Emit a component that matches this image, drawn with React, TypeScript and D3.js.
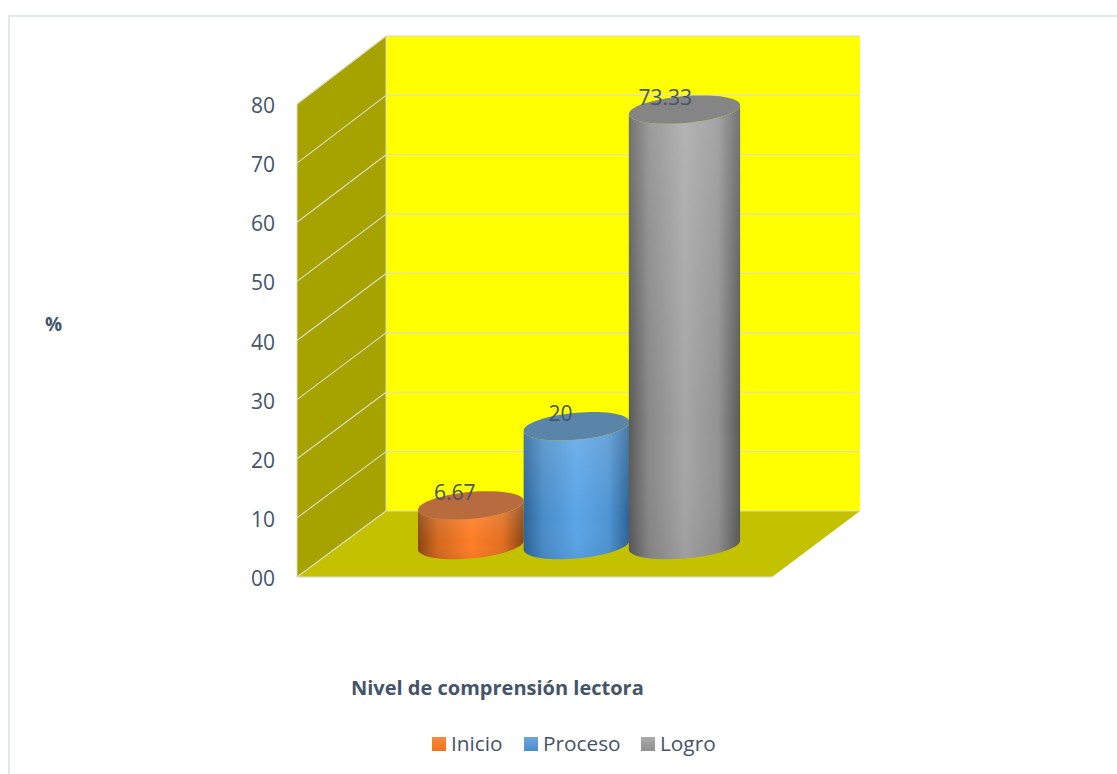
import React from "react";
import * as d3 from "d3";

const categories = ["Inicio", "Proceso", "Logro"];
const values = [6.67, 20, 73.33];
const valueLabels = ["6.67", "20", "73.33"];
const yTicks = [0, 10, 20, 30, 40, 50, 60, 70, 80];
const yTickLabels = ["00", "10", "20", "30", "40", "50", "60", "70", "80"];
const topColors = ["#b96b40", "#5a84a8", "#858585"];
const edgeColors = ["#8c4512", "#2c6396", "#5a5a5a"];
const midColors = ["#ff7d26", "#5aa5e8", "#a6a6a6"];
const legendTop = ["#f58a45", "#6ea6de", "#ababab"];
const legendBottom = ["#ee7418", "#4a8ccc", "#8f8f8f"];

const W = 1117;
const H = 774;
const textColor = "#44546a";
const font = "'Open Sans', sans-serif";

const yFront = d3.scaleLinear().domain([0, 80]).range([577, 104]);
const yBack = d3.scaleLinear().domain([0, 80]).range([511, 36]);
const xFront = 297;
const xBack = 386;
const xRight = 860;
const xFloorFront = 772;

const xBand = d3.scaleBand().domain(categories).range([418, 735]).paddingInner(0);
const heightScale = d3.scaleLinear().domain([0, 80]).range([0, 475]);

const tilt = 4.5;
const vr = 13.5;
const baseCy = 545;

function ellipsePoint(cx: number, cy: number, a: number, t: number): [number, number] {
  return [cx + a * Math.cos(t), cy + vr * Math.sin(t) - tilt * Math.cos(t)];
}

const line = d3.line();

function topPath(cx: number, cy: number, a: number) {
  const pts = d3.range(0, 73).map((i) => ellipsePoint(cx, cy, a, (i / 72) * 2 * Math.PI));
  return line(pts) + "Z";
}

function bodyPath(cx: number, top: number, bottom: number, a: number) {
  const lower = d3.range(0, 37).map((i) => ellipsePoint(cx, bottom, a, (i / 36) * Math.PI));
  const upper = d3.range(36, -1, -1).map((i) => ellipsePoint(cx, top, a, (i / 36) * Math.PI));
  return line([...lower, ...upper]) + "Z";
}

export default function App() {
  const bw = xBand.bandwidth();
  return (
    <svg
      width={W}
      height={H}
      viewBox={`0 0 ${W} ${H}`}
      style={{ position: "absolute", left: 0, top: 0, display: "block", background: "#fff" }}
    >
      <defs>
        {categories.map((c, i) => {
          const mix = d3.interpolateRgb(edgeColors[i], midColors[i]);
          return (
            <React.Fragment key={c}>
              <linearGradient id={`body${i}`} x1="0" x2="1" y1="0" y2="0">
                <stop offset="0" stopColor={edgeColors[i]} />
                <stop offset="0.18" stopColor={mix(0.6)} />
                <stop offset="0.5" stopColor={midColors[i]} />
                <stop offset="0.8" stopColor={mix(0.75)} />
                <stop offset="1" stopColor={edgeColors[i]} />
              </linearGradient>
              <linearGradient id={`legend${i}`} x1="0" x2="0" y1="0" y2="1">
                <stop offset="0" stopColor={legendTop[i]} />
                <stop offset="1" stopColor={legendBottom[i]} />
              </linearGradient>
            </React.Fragment>
          );
        })}
        <linearGradient id="shade" x1="0" x2="0" y1="0" y2="1">
          <stop offset="0" stopColor="#fff" stopOpacity={0.16} />
          <stop offset="0.7" stopColor="#fff" stopOpacity={0} />
          <stop offset="1" stopColor="#000" stopOpacity={0.05} />
        </linearGradient>
      </defs>

      <rect x={9} y={16} width={W + 20} height={H + 20} fill="#fff" stroke="#e2e7ed" strokeWidth={2} />

      {/* back wall */}
      <rect x={xBack} y={yBack(80)} width={xRight - xBack} height={yBack(0) - yBack(80)} fill="#ffff00" />
      {/* left wall */}
      <polygon
        points={`${xFront},${yFront(0)} ${xBack},${yBack(0)} ${xBack},${yBack(80)} ${xFront},${yFront(80)}`}
        fill="#a6a300"
      />
      {/* floor */}
      <polygon
        points={`${xFront},${yFront(0)} ${xBack},${yBack(0)} ${xRight},${yBack(0)} ${xFloorFront},${yFront(0)}`}
        fill="#c4c200"
      />

      {/* gridlines */}
      {yTicks.map((t) => (
        <g key={t} stroke="#dcdcc8" strokeWidth={1.2} fill="none">
          <line x1={xFront} y1={yFront(t)} x2={xBack} y2={yBack(t)} />
          <line x1={xBack} y1={yBack(t)} x2={xRight} y2={yBack(t)} />
        </g>
      ))}
      <line x1={xFront} y1={yFront(0)} x2={xFloorFront} y2={yFront(0)} stroke="#dcdcd0" strokeWidth={1.2} />
      <line x1={xFront} y1={yFront(0)} x2={xFront} y2={yFront(80)} stroke="#dcdcc8" strokeWidth={1} />
      <line x1={xBack} y1={yBack(0)} x2={xBack} y2={yBack(80)} stroke="#dcdcc8" strokeWidth={1} />

      {/* y tick labels */}
      {yTicks.map((t, i) => (
        <text
          key={t}
          x={275}
          y={yFront(t) + 1}
          textAnchor="end"
          dominantBaseline="central"
          fontFamily={font}
          fontSize={21}
          fill={textColor}
        >
          {yTickLabels[i]}
        </text>
      ))}

      {/* cylinders */}
      {categories.map((c, i) => {
        const a = bw / 2 + (i === 2 ? 2.8 : 0);
        const cx = (xBand(c) as number) + bw / 2 + (i === 2 ? 2.3 : 0);
        const top = baseCy - heightScale(values[i]);
        return (
          <g key={c}>
            <path d={bodyPath(cx, top, baseCy, a)} fill={`url(#body${i})`} />
            <path d={bodyPath(cx, top, baseCy, a)} fill="url(#shade)" />
            <path d={topPath(cx, top, a)} fill={topColors[i]} />
          </g>
        );
      })}

      {/* value labels */}
      {categories.map((c, i) => {
        const cx = (xBand(c) as number) + bw / 2;
        const top = baseCy - heightScale(values[i]);
        return (
          <text
            key={c}
            x={cx - 16 - (i === 2 ? 1 : 0)}
            y={top - 13}
            textAnchor="middle"
            dominantBaseline="central"
            fontFamily={font}
            fontSize={21}
            fill={textColor}
          >
            {valueLabels[i]}
          </text>
        );
      })}

      {/* axis titles */}
      <text x={45} y={331} fontFamily={font} fontSize={19} fontWeight={700} fill={textColor}>%</text>
      <text x={351} y={695} fontFamily={font} fontSize={20} fontWeight={700} fill={textColor}>
        Nivel de comprensión lectora
      </text>

      {/* legend */}
      {categories.map((c, i) => {
        const xs = [432, 524, 641];
        return (
          <g key={c}>
            <rect x={xs[i]} y={737} width={14} height={14} fill={`url(#legend${i})`} />
            <text x={xs[i] + 19} y={751} fontFamily={font} fontSize={20.8} fill={textColor}>
              {c}
            </text>
          </g>
        );
      })}
    </svg>
  );
}
